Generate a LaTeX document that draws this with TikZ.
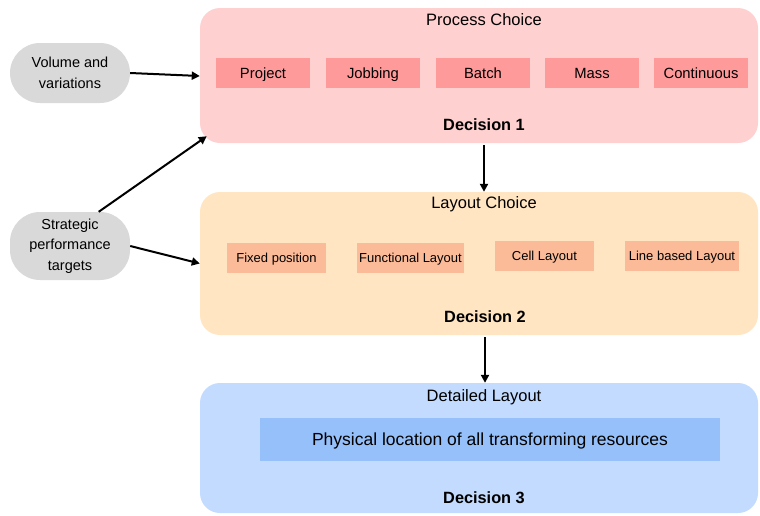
\documentclass[tikz,border=0pt]{standalone}
\usepackage{fontspec}
\setmainfont{Liberation Sans}
\usetikzlibrary{arrows.meta,calc}
\definecolor{pinkbig}{HTML}{FFD0D0}
\definecolor{pinksmall}{HTML}{FF9A9A}
\definecolor{orbig}{HTML}{FFE5C2}
\definecolor{orsmall}{HTML}{FBBB98}
\definecolor{bluebig}{HTML}{C2DBFE}
\definecolor{bluesmall}{HTML}{95C0FA}
\definecolor{greypill}{HTML}{D9D9D9}
\tikzset{
  fixtext/.style={text height=#1, text depth=0pt},
  bigbox/.style={rounded corners=20pt, inner sep=0pt, minimum width=558pt},
  procbox/.style={fill=pinksmall, inner sep=0pt, fixtext=10.6pt, minimum width=94pt, minimum height=30pt, font=\fontsize{14.8}{16}\selectfont},
  laybox/.style={fill=orsmall, inner sep=0pt, fixtext=9.3pt, minimum height=30pt, font=\fontsize{13}{15}\selectfont},
  pill/.style={fill=greypill, rounded corners=30pt, inner sep=0pt, minimum width=120pt, align=center, font=\fontsize{14.5}{20.5}\selectfont},
  title/.style={inner sep=0pt, fixtext=11.8pt, font=\fontsize{16.5}{19}\selectfont},
  decision/.style={inner sep=0pt, fixtext=11.7pt, font=\fontsize{16.3}{19}\selectfont\bfseries},
  arr/.style={line width=2pt, -{Triangle[length=8pt,width=8pt]}}
}
\begin{document}
\begin{tikzpicture}[x=1pt,y=-1pt]
\useasboundingbox (0,0) rectangle (760,515);
% big boxes
\node[bigbox, fill=pinkbig, minimum height=135pt] (pink) at (479,75.5) {};
\node[bigbox, fill=orbig, minimum height=143pt] (orange) at (479,263.5) {};
\node[bigbox, fill=bluebig, minimum height=130pt] (blue) at (479,448) {};
% titles
\node[title] (t1) at (484,20) {Process Choice};
\node[decision] (d1) at (484,125) {Decision 1};
\node[title] (t2) at (484,203) {Layout Choice};
\node[decision] (d2) at (485,317) {Decision 2};
\node[title] (t3) at (484,396) {Detailed Layout};
\node[decision] (d3) at (484,498) {Decision 3};
% process boxes
\node[procbox] (p1) at (263,73) {Project};
\node[procbox] (p2) at (373,73) {Jobbing};
\node[procbox] (p3) at (483,73) {Batch};
\node[procbox] (p4) at (592,73) {Mass};
\node[procbox] (p5) at (701,73) {Continuous};
% layout boxes
\node[laybox, minimum width=99pt] (l1) at (276.5,258) {Fixed position};
\node[laybox, minimum width=107pt] (l2) at (410.5,258) {Functional Layout};
\node[laybox, minimum width=99pt] (l3) at (544.5,256) {Cell Layout};
\node[laybox, minimum width=114pt] (l4) at (682,256) {Line based Layout};
% detailed
\node[fill=bluesmall, inner sep=0pt, fixtext=12.5pt, minimum width=460pt, minimum height=43pt, font=\fontsize{17.5}{20}\selectfont] (phys) at (490,439) {Physical location of all transforming resources};
% pills
\node[pill, minimum height=60pt] (vol) at (70,73) {Volume and\\variations};
\node[pill, minimum height=68pt] (strat) at (70,246) {Strategic\\performance\\targets};
% arrows
\coordinate (pinkin) at ($(pink.west)+(0,0.5)$);
\coordinate (pinkcorner) at ($(pink.south west)+(7,-7)$);
\draw[arr] (vol.east) -- (pinkin);
\draw[arr] (strat.50) -- (pinkcorner);
\draw[arr] (strat.east) -- (orange.west);
\draw[arr] (pink.south -| d1.south) ++(0,2) -- (orange.north -| d1.south);
\draw[arr] (orange.south -| d2.south) ++(0,2) -- (blue.north -| d2.south);
\end{tikzpicture}
\end{document}
